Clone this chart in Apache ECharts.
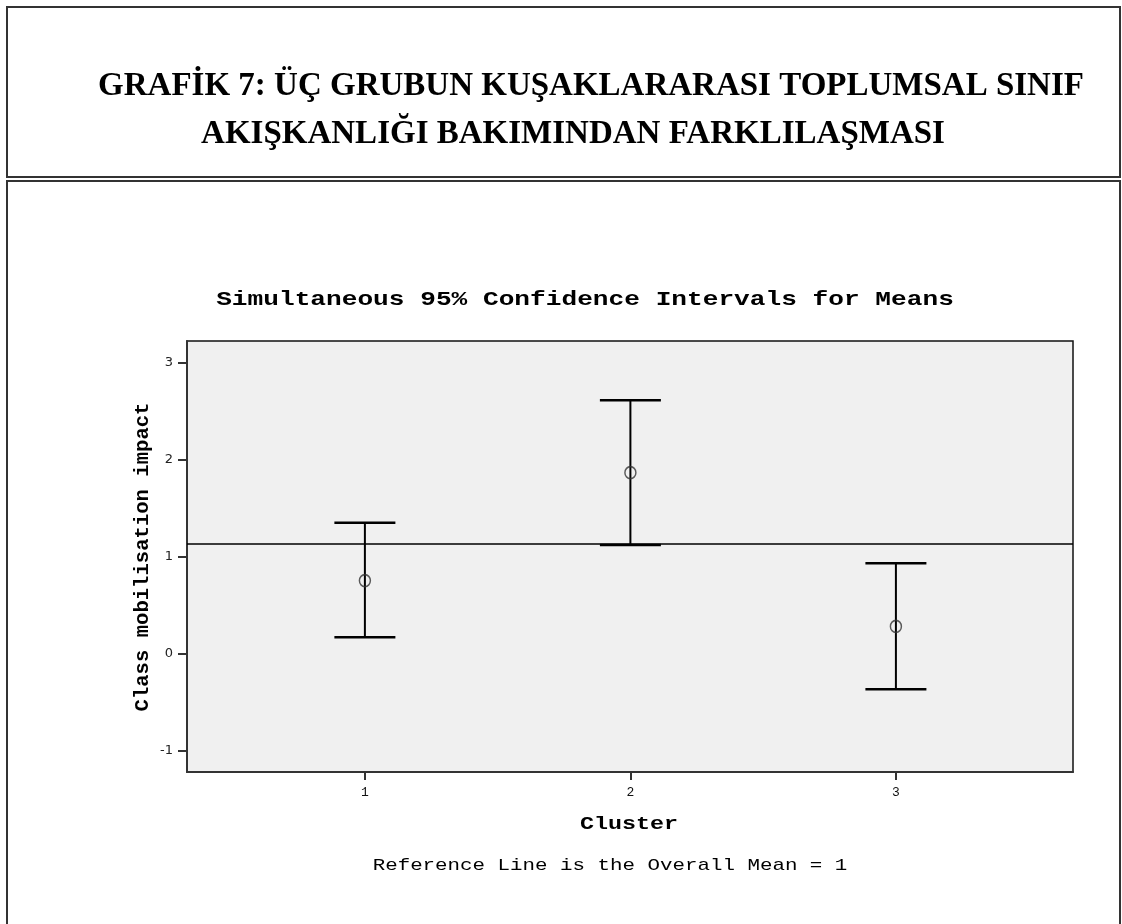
<!DOCTYPE html>
<html>
<head>
<meta charset="utf-8">
<script src="https://cdn.jsdelivr.net/npm/echarts@6/dist/echarts.min.js"></script>
<style>
html,body{margin:0;padding:0;background:#fff;}
#chart{width:1122px;height:924px;}
</style>
</head>
<body>
<div id="chart"></div>
<script>
// ---- data ----
var clusters = [1, 2, 3];
var means = [0.753, 1.866, 0.281];
var lowerCI = [0.168, 1.12, -0.367];
var upperCI = [1.35, 2.613, 0.932];
var overallMean = 1.128;
var xTicks = [1, 2, 3];
var yTicks = [-1, 0, 1, 2, 3];

var headerLine1 = 'GRAFİK 7: ÜÇ GRUBUN KUŞAKLARARASI TOPLUMSAL SINIF';
var headerLine2 = 'AKIŞKANLIĞI BAKIMINDAN FARKLILAŞMASI';
var chartTitle = 'Simultaneous 95% Confidence Intervals for Means';
var xName = 'Cluster';
var yName = 'Class mobilisation impact';
var footnote = 'Reference Line is the Overall Mean = 1';

var chart = echarts.init(document.getElementById('chart'), null, {renderer: 'canvas'});

var ciData = clusters.map(function (c, i) { return [c, lowerCI[i], upperCI[i]]; });
var meanData = clusters.map(function (c, i) { return [c, means[i]]; });

var mono = '"Liberation Mono", "Courier New", monospace';
var serif = '"Liberation Serif", "Times New Roman", serif';

function txt(text, x, y, size, weight, family, sx, rot) {
  return {
    type: 'text', x: x, y: y, scaleX: sx || 1, rotation: rot || 0, silent: true,
    style: {
      text: text, fontSize: size, fontWeight: weight, fontFamily: family,
      fill: '#000', textAlign: 'center', textVerticalAlign: 'middle',
      align: 'center', verticalAlign: 'middle'
    }
  };
}

var option = {
  backgroundColor: '#fff',
  animation: false,
  graphic: [
    {type: 'rect', silent: true, shape: {x: 7, y: 7, width: 1113, height: 170},
     style: {fill: 'none', stroke: '#333', lineWidth: 2}},
    {type: 'rect', silent: true, shape: {x: 7, y: 181, width: 1113, height: 760},
     style: {fill: 'none', stroke: '#333', lineWidth: 2}},
    txt(headerLine1, 591, 86, 33, 'bold', serif, 1),
    txt(headerLine2, 573, 134, 33, 'bold', serif, 1),
    txt(chartTitle, 585, 300, 20.6, 'bold', mono, 1.27),
    txt(xName, 629, 824, 18.4, 'bold', mono, 1.27),
    txt(footnote, 610, 866, 16.4, 'normal', mono, 1.27),
    txt(yName, 143, 557, 20.6, 'bold', mono, 1, Math.PI / 2)
  ],
  grid: {
    left: 187, right: 49, top: 341, bottom: 152,
    show: true, backgroundColor: '#f0f0f0', borderColor: '#111', borderWidth: 1.5
  },
  xAxis: {
    type: 'value', min: 0.33, max: 3.667,
    axisLine: {show: true, onZero: false, lineStyle: {color: '#333', width: 2}},
    axisTick: {show: true, customValues: xTicks, length: 8, lineStyle: {color: '#333', width: 2}},
    axisLabel: {show: true, customValues: xTicks, color: '#111', fontSize: 13, fontFamily: mono, margin: 14},
    splitLine: {show: false}
  },
  yAxis: {
    type: 'value', min: -1.22, max: 3.223,
    axisLine: {show: true, onZero: false, lineStyle: {color: '#333', width: 2}},
    axisTick: {show: true, customValues: yTicks, length: 9, lineStyle: {color: '#333', width: 2}},
    axisLabel: {show: true, customValues: yTicks, color: '#222', fontSize: 13, fontFamily: '"DejaVu Sans", sans-serif', margin: 14},
    splitLine: {show: false}
  },
  series: [
    {
      type: 'custom',
      data: ciData,
      renderItem: function (params, api) {
        var x = api.value(0);
        var lo = api.coord([x, api.value(1)]);
        var hi = api.coord([x, api.value(2)]);
        var hw = 30.5;
        var st = {stroke: '#000', lineWidth: 2};
        var cap = {stroke: '#000', lineWidth: 2.5};
        return {
          type: 'group',
          children: [
            {type: 'line', shape: {x1: lo[0], y1: lo[1], x2: hi[0], y2: hi[1]}, style: st},
            {type: 'line', shape: {x1: hi[0] - hw, y1: hi[1], x2: hi[0] + hw, y2: hi[1]}, style: cap},
            {type: 'line', shape: {x1: lo[0] - hw, y1: lo[1], x2: lo[0] + hw, y2: lo[1]}, style: cap}
          ]
        };
      },
      z: 3
    },
    {
      type: 'scatter',
      data: meanData,
      symbol: 'circle',
      symbolSize: [11, 12],
      itemStyle: {color: 'rgba(240,240,240,0)', borderColor: '#333', borderWidth: 1.5},
      z: 4,
      markLine: {
        silent: true, symbol: 'none',
        label: {show: false},
        lineStyle: {color: '#000', width: 1.5, type: 'solid'},
        data: [{yAxis: overallMean}]
      }
    }
  ]
};

chart.setOption(option);
</script>
</body>
</html>
